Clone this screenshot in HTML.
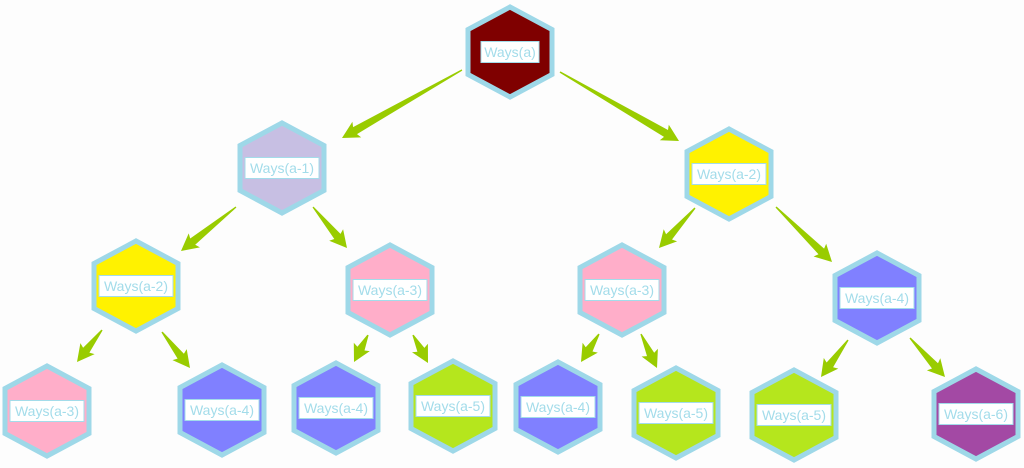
<!DOCTYPE html>
<html><head><meta charset="utf-8">
<style>
html,body{margin:0;padding:0;background:#fdfdfd;}
svg{display:block;}
text{font-family:"Liberation Sans",sans-serif;font-size:14px;fill:#a3dcea;}
</style></head>
<body>
<svg id="s" width="1024" height="468" viewBox="0 0 1024 468" xmlns="http://www.w3.org/2000/svg">
<g id="arrows"></g>
<g id="nodes"></g>
</svg>
<script>
var nodes=[
[510,52,"#7f0000","Ways(a)"],
[282,168,"#c7bfe3","Ways(a-1)"],
[729,174,"#fff200","Ways(a-2)"],
[136,286,"#fff200","Ways(a-2)"],
[390,290,"#ffaec9","Ways(a-3)"],
[622,290,"#ffaec9","Ways(a-3)"],
[877,298,"#8080ff","Ways(a-4)"],
[47,411,"#ffaec9","Ways(a-3)"],
[222,410,"#8080ff","Ways(a-4)"],
[336,408,"#8080ff","Ways(a-4)"],
[453,406,"#b5e61d","Ways(a-5)"],
[558,407,"#8080ff","Ways(a-4)"],
[676,413,"#b5e61d","Ways(a-5)"],
[794,415,"#b5e61d","Ways(a-5)"],
[976,414,"#a349a4","Ways(a-6)"]
];
var arrows=[
[462,70,342,138],[560,72,679,141],
[236,207,181,251],[313,207,347,248],
[695,208,659,248],[776,207,832,262],
[102,330,77,362],[162,332,190,368],
[368,335,354,362],[413,335,428,363],
[599,334,581,362],[641,334,657,368],
[848,340,821,377],[910,338,945,377]
];
var NS="http://www.w3.org/2000/svg";
var ga=document.getElementById("arrows"),gn=document.getElementById("nodes");
arrows.forEach(function(a){
 var x1=a[0],y1=a[1],x2=a[2],y2=a[3];
 var dx=x2-x1,dy=y2-y1,L=Math.sqrt(dx*dx+dy*dy),ux=dx/L,uy=dy/L,px=-uy,py=ux;
 var hl=15,hw=9,sw=4;
 var bx=x2-ux*hl,by=y2-uy*hl;
 var pts=[[x1+px*0.7,y1+py*0.7],[bx+px*sw,by+py*sw],[bx-ux*2+px*hw,by-uy*2+py*hw],[x2,y2],[bx-ux*2-px*hw,by-uy*2-py*hw],[bx-px*sw,by-py*sw],[x1-px*0.7,y1-py*0.7]];
 var p=document.createElementNS(NS,"polygon");
 p.setAttribute("points",pts.map(function(q){return q[0].toFixed(1)+","+q[1].toFixed(1)}).join(" "));
 p.setAttribute("fill","#99cc00");
 ga.appendChild(p);
});
nodes.forEach(function(n){
 var x=n[0],y=n[1],w=42,h=45;
 var p=document.createElementNS(NS,"polygon");
 p.setAttribute("points",[[x,y-h],[x+w,y-h/2],[x+w,y+h/2],[x,y+h],[x-w,y+h/2],[x-w,y-h/2]].map(function(q){return q.join(",")}).join(" "));
 p.setAttribute("fill",n[2]);p.setAttribute("stroke","#9ed8e8");p.setAttribute("stroke-width","5");p.setAttribute("stroke-linejoin","miter");
 gn.appendChild(p);
 var bw=n[3].length>7?74:58;
 var r=document.createElementNS(NS,"rect");
 r.setAttribute("x",x-bw/2);r.setAttribute("y",y-10.5);r.setAttribute("width",bw);r.setAttribute("height",21);
 r.setAttribute("fill","#fff");r.setAttribute("stroke","#a3dcea");r.setAttribute("stroke-width","1");
 gn.appendChild(r);
 var t=document.createElementNS(NS,"text");
 t.setAttribute("x",x);t.setAttribute("y",y+5);t.setAttribute("text-anchor","middle");
 t.textContent=n[3];
 gn.appendChild(t);
});
</script>
</body></html>
